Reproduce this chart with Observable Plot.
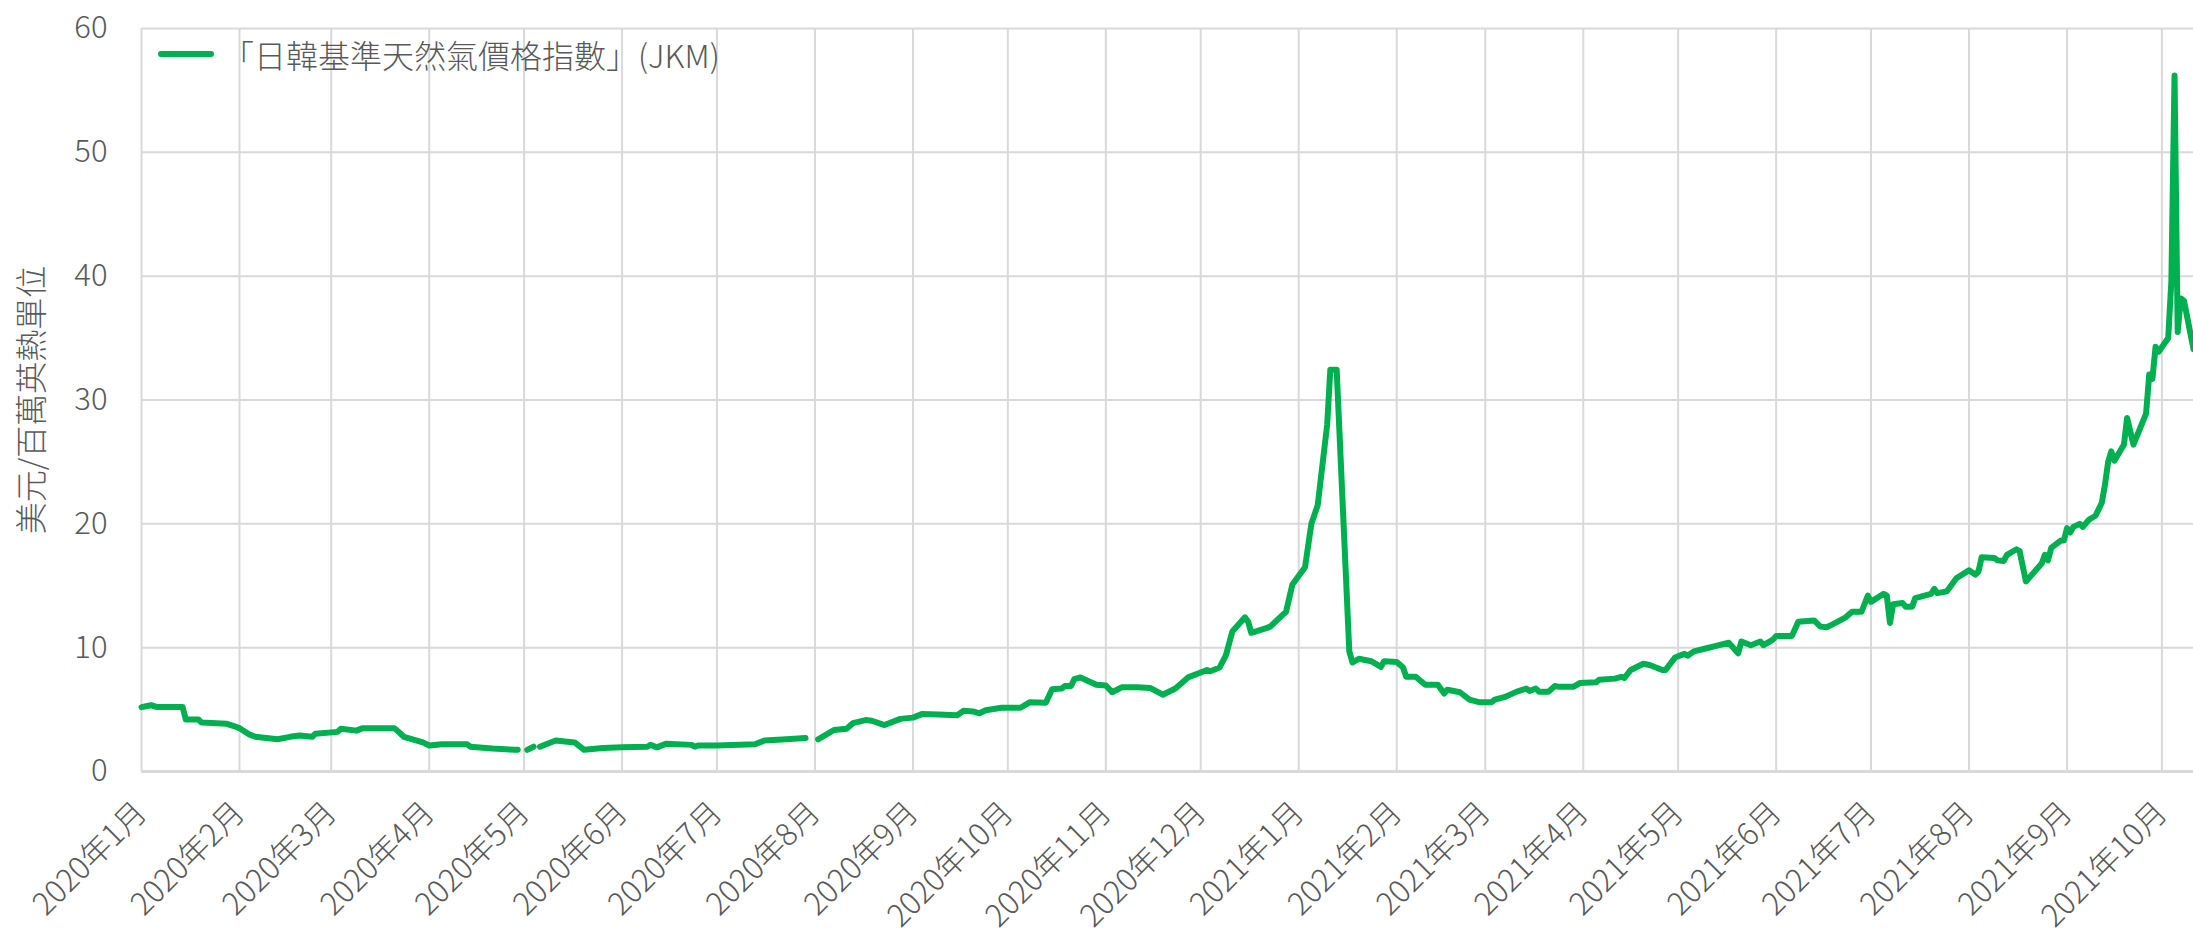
<!DOCTYPE html>
<html>
<head>
<meta charset="utf-8">
<script src="https://cdn.jsdelivr.net/npm/d3@7"></script>
<script src="https://cdn.jsdelivr.net/npm/@observablehq/plot@0.6"></script>
<style>
  html, body { margin: 0; padding: 0; background: #fff; }
  #chart { position: relative; width: 2193px; height: 946px; }
  #legend { position: absolute; left: 158px; top: 31px; display: flex; align-items: center;
    font-family: "Noto Sans CJK TC", "Noto Sans", sans-serif; font-weight: 300; font-size: 32px; color: #595959; white-space: nowrap; }
  #legend .sw { width: 56px; height: 6px; background: #00b050; border-radius: 3px; margin-right: 8px; }
</style>
</head>
<body>
<div id="chart"><div id="legend"><span class="sw"></span><span id="legendText"></span></div></div>
<script>
const seriesName = "「日韓基準天然氣價格指數」(JKM)";
const yTitle = "美元/百萬英熱單位";

const dates = [
  "2020-01-01","2020-01-04","2020-01-06","2020-01-14","2020-01-15","2020-01-19","2020-01-20","2020-01-28","2020-01-31",
  "2020-02-01","2020-02-04","2020-02-06","2020-02-13","2020-02-17","2020-02-20","2020-02-24","2020-02-25",
  "2020-03-03","2020-03-04","2020-03-09","2020-03-11","2020-03-21","2020-03-24","2020-03-30",
  "2020-04-01","2020-04-05","2020-04-13","2020-04-14","2020-04-21","2020-04-28","2020-04-29",
  "2020-05-01","2020-05-02","2020-05-04","2020-05-05","2020-05-06","2020-05-11","2020-05-17","2020-05-20","2020-05-26",
  "2020-06-01","2020-06-09","2020-06-10","2020-06-12","2020-06-15","2020-06-23","2020-06-24","2020-06-25",
  "2020-07-01","2020-07-13","2020-07-16","2020-07-23","2020-07-29","2020-07-31",
  "2020-08-02","2020-08-07","2020-08-11","2020-08-13","2020-08-17","2020-08-19","2020-08-23","2020-08-28",
  "2020-09-01","2020-09-04","2020-09-09","2020-09-15","2020-09-17","2020-09-20","2020-09-22","2020-09-24","2020-09-29",
  "2020-10-05","2020-10-08","2020-10-13","2020-10-15","2020-10-18","2020-10-19","2020-10-21","2020-10-22","2020-10-24","2020-10-26","2020-10-29",
  "2020-11-01","2020-11-03","2020-11-06","2020-11-11","2020-11-15","2020-11-19","2020-11-23","2020-11-25","2020-11-27",
  "2020-12-01","2020-12-03","2020-12-04","2020-12-07","2020-12-09","2020-12-11","2020-12-15","2020-12-16","2020-12-17","2020-12-22","2020-12-23","2020-12-28","2020-12-30",
  "2021-01-03","2021-01-05","2021-01-07","2021-01-10","2021-01-11","2021-01-13","2021-01-17","2021-01-18","2021-01-20","2021-01-24","2021-01-27","2021-01-28",
  "2021-02-01","2021-02-03","2021-02-04","2021-02-07","2021-02-10","2021-02-14","2021-02-16","2021-02-17","2021-02-21","2021-02-24","2021-02-27",
  "2021-03-03","2021-03-04","2021-03-07","2021-03-11","2021-03-14","2021-03-15","2021-03-17","2021-03-18","2021-03-21","2021-03-23","2021-03-24","2021-03-29","2021-03-31",
  "2021-04-05","2021-04-06","2021-04-11","2021-04-13","2021-04-14","2021-04-16","2021-04-20","2021-04-22","2021-04-26","2021-04-27","2021-04-30",
  "2021-05-03","2021-05-04","2021-05-06","2021-05-10","2021-05-13","2021-05-17","2021-05-20","2021-05-21","2021-05-24","2021-05-27","2021-05-28","2021-05-31",
  "2021-06-01","2021-06-06","2021-06-08","2021-06-13","2021-06-15","2021-06-17","2021-06-19","2021-06-23","2021-06-25","2021-06-28","2021-06-30",
  "2021-07-01","2021-07-05","2021-07-06","2021-07-07","2021-07-08","2021-07-11","2021-07-12","2021-07-14","2021-07-15","2021-07-20","2021-07-21","2021-07-22","2021-07-25","2021-07-26","2021-07-28",
  "2021-08-01","2021-08-03","2021-08-04","2021-08-05","2021-08-09","2021-08-10","2021-08-12","2021-08-13","2021-08-16","2021-08-17","2021-08-19","2021-08-24","2021-08-25","2021-08-26","2021-08-27","2021-08-30","2021-08-31",
  "2021-09-01","2021-09-02","2021-09-03","2021-09-05","2021-09-06","2021-09-08","2021-09-10","2021-09-12","2021-09-13","2021-09-14","2021-09-15","2021-09-16","2021-09-19","2021-09-20","2021-09-22","2021-09-26","2021-09-27","2021-09-28","2021-09-29","2021-09-30",
  "2021-10-03","2021-10-04","2021-10-05","2021-10-06","2021-10-07","2021-10-08","2021-10-11"
];
const values = [
  5.2,5.35,5.2,5.2,4.2,4.2,3.95,3.85,3.6,
  3.5,3.0,2.8,2.6,2.8,2.9,2.8,3.05,
  3.2,3.45,3.3,3.5,3.5,2.8,2.35,
  2.1,2.2,2.2,2.0,1.85,1.75,1.75,
  null,1.75,2.0,null,2.0,2.5,2.35,1.75,1.9,
  1.95,2.0,2.15,1.95,2.25,2.15,2.0,2.1,
  2.1,2.2,2.5,2.6,2.7,null,
  2.6,3.35,3.45,3.9,4.15,4.1,3.75,4.25,
  4.35,4.65,4.6,4.55,4.9,4.85,4.7,4.95,5.15,
  5.15,5.6,5.55,6.65,6.7,6.9,6.9,7.45,7.6,7.35,7.0,
  6.95,6.4,6.8,6.8,6.75,6.2,6.7,7.15,7.6,
  8.0,8.2,8.1,8.4,9.4,11.3,12.45,12.1,11.2,11.6,11.7,12.9,15.1,
  16.5,20.0,21.5,28.0,32.45,32.45,9.7,8.8,9.1,8.9,8.45,8.9,
  8.85,8.4,7.65,7.65,7.0,7.0,6.3,6.6,6.4,5.8,5.6,
  5.6,5.8,6.0,6.45,6.7,6.5,6.7,6.45,6.45,6.9,6.85,6.85,7.15,
  7.2,7.4,7.5,7.65,7.55,8.2,8.7,8.6,8.2,8.2,9.2,
  9.5,9.35,9.7,9.95,10.15,10.4,9.55,10.5,10.2,10.5,10.2,10.65,
  10.95,10.95,12.1,12.2,11.7,11.65,11.9,12.45,12.9,12.9,14.2,
  13.7,14.35,14.2,12.0,13.5,13.6,13.3,13.3,14.0,14.35,14.75,14.4,14.55,14.9,15.6,
  16.25,15.9,16.15,17.3,17.25,17.05,17.0,17.5,17.95,17.8,15.35,16.8,17.5,17.05,18.05,18.65,18.65,
  19.65,19.3,19.75,20.0,19.75,20.35,20.65,21.7,23.15,25.0,25.85,25.1,26.4,28.55,26.4,28.9,32.05,31.7,34.3,33.9,
  35.0,39.6,56.2,35.5,38.2,38.0,34.1
];

const monthTicks = [
  "2020-01-01","2020-02-01","2020-03-01","2020-04-01","2020-05-01","2020-06-01","2020-07-01","2020-08-01","2020-09-01","2020-10-01","2020-11-01","2020-12-01",
  "2021-01-01","2021-02-01","2021-03-01","2021-04-01","2021-05-01","2021-06-01","2021-07-01","2021-08-01","2021-09-01","2021-10-01"
];
const monthLabels = [
  "2020年1月","2020年2月","2020年3月","2020年4月","2020年5月","2020年6月","2020年7月","2020年8月","2020年9月","2020年10月","2020年11月","2020年12月",
  "2021年1月","2021年2月","2021年3月","2021年4月","2021年5月","2021年6月","2021年7月","2021年8月","2021年9月","2021年10月"
];
const yTicks = [0, 10, 20, 30, 40, 50, 60];
const xDomain = ["2020-01-01", "2021-10-11"];

const data = dates.map((d, i) => ({date: new Date(d), value: values[i]}));
const ticks = monthTicks.map((d, i) => ({date: new Date(d), label: monthLabels[i]}));

const font = '"Noto Sans CJK TC", "Noto Sans", sans-serif';
const grey = "#595959";
const gridColor = "#d9d9d9";

const chart = Plot.plot({
  width: 2193,
  height: 946,
  marginLeft: 141,
  marginRight: 0,
  marginTop: 28,
  marginBottom: 175,
  style: {fontFamily: font, background: "#fff", overflow: "visible"},
  x: {type: "utc", domain: xDomain.map(d => new Date(d)), axis: null},
  y: {domain: [0, 60], axis: null},
  marks: [
    Plot.ruleX(ticks, {x: "date", stroke: gridColor, strokeWidth: 2}),
    Plot.ruleY(yTicks.filter(v => v > 0), {y: d => d, stroke: gridColor, strokeWidth: 2}),
    Plot.ruleY([0], {stroke: gridColor, strokeWidth: 3}),
    Plot.line(data, {x: "date", y: "value", stroke: "#00b050", strokeWidth: 6, strokeLinejoin: "round", strokeLinecap: "round"}),
    Plot.text(yTicks, {y: d => d, text: d => String(d), frameAnchor: "left", textAnchor: "end", dx: -34, fill: grey, fontSize: 31, fontWeight: 300}),
    Plot.text(ticks, {x: "date", text: "label", frameAnchor: "bottom", rotate: -45, textAnchor: "end", lineAnchor: "middle", dx: 0, dy: 36, fill: grey, fontSize: 31, fontWeight: 300}),
    Plot.text([yTitle], {text: d => d, frameAnchor: "left", textAnchor: "middle", rotate: -90, dx: -109, fill: grey, fontSize: 32, fontWeight: 300})
  ]
});

document.getElementById("chart").prepend(chart);
document.getElementById("legendText").textContent = seriesName;
</script>
</body>
</html>
